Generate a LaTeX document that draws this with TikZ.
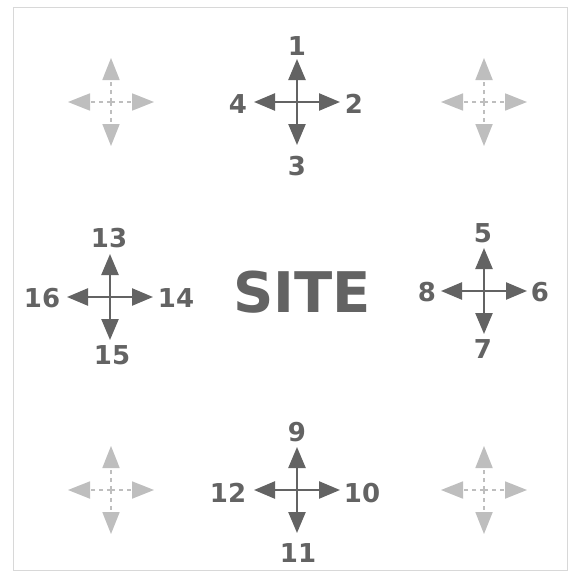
\documentclass[tikz,border=0pt]{standalone}
\usepackage{fontspec}
\setmainfont{DejaVu Sans}
\usetikzlibrary{arrows.meta}
\definecolor{ink}{HTML}{636363}
\definecolor{faint}{HTML}{BEBEBE}
\definecolor{framec}{HTML}{D8D8D8}
\begin{document}
\begin{tikzpicture}[x=1pt,y=-1pt,
  mainarrow/.style={draw=ink, line width=2.4pt, -{Triangle[length=21pt,width=17pt]}},
  faintarrow/.style={draw=faint, line width=1.8pt, dash pattern=on 4pt off 4pt, -{Triangle[length=22pt,width=17pt]}},
  lbl/.style={text=ink, font=\bfseries\fontsize{26}{26}\selectfont, inner sep=0pt},
  sitelbl/.style={text=ink, font=\bfseries\fontsize{56}{56}\selectfont, inner sep=0pt},
  framebox/.style={draw=framec, line width=1pt}]
\useasboundingbox (0,0) rectangle (569,578);
\fill[white] (0,0) rectangle (569,578);
\draw[framebox] (13,8) rectangle (567,570);

% main crosses
\foreach \n/\x/\y in {t/297/102, l/110/297, r/484/291, b/297/490} {
  \coordinate (\n c) at (\x,\y);
  \coordinate (\n u) at (\x,\y-43);
  \coordinate (\n d) at (\x,\y+43);
  \coordinate (\n w) at (\x-43,\y);
  \coordinate (\n e) at (\x+43,\y);
  \draw[mainarrow] (\n c) -- (\n u);
  \draw[mainarrow] (\n c) -- (\n d);
  \draw[mainarrow] (\n c) -- (\n w);
  \draw[mainarrow] (\n c) -- (\n e);
}

% faint crosses
\foreach \n/\x/\y in {fa/111/102, fb/484/102, fc/111/490, fd/484/490} {
  \coordinate (\n c) at (\x,\y);
  \coordinate (\n u) at (\x,\y-44);
  \coordinate (\n d) at (\x,\y+44);
  \coordinate (\n w) at (\x-43,\y);
  \coordinate (\n e) at (\x+43,\y);
  \draw[faintarrow] (\n c) -- (\n u);
  \draw[faintarrow] (\n c) -- (\n d);
  \draw[faintarrow] (\n c) -- (\n w);
  \draw[faintarrow] (\n c) -- (\n e);
}

% labels
\node[lbl] (n1) at (297,46) {1};
\node[lbl] (n2) at (354,104) {2};
\node[lbl] (n3) at (297,166) {3};
\node[lbl] (n4) at (238,104) {4};
\node[lbl] (n5) at (483,233) {5};
\node[lbl] (n6) at (540,292) {6};
\node[lbl] (n7) at (483,349) {7};
\node[lbl] (n8) at (427,292) {8};
\node[lbl] (n9) at (297,432) {9};
\node[lbl] (n10) at (362,493) {10};
\node[lbl] (n11) at (298,553) {11};
\node[lbl] (n12) at (228,493) {12};
\node[lbl] (n13) at (109,238) {13};
\node[lbl] (n14) at (176,298) {14};
\node[lbl] (n15) at (112,355) {15};
\node[lbl] (n16) at (42,298) {16};

\node[sitelbl] (site) at (302,292) {SITE};
\end{tikzpicture}
\end{document}
